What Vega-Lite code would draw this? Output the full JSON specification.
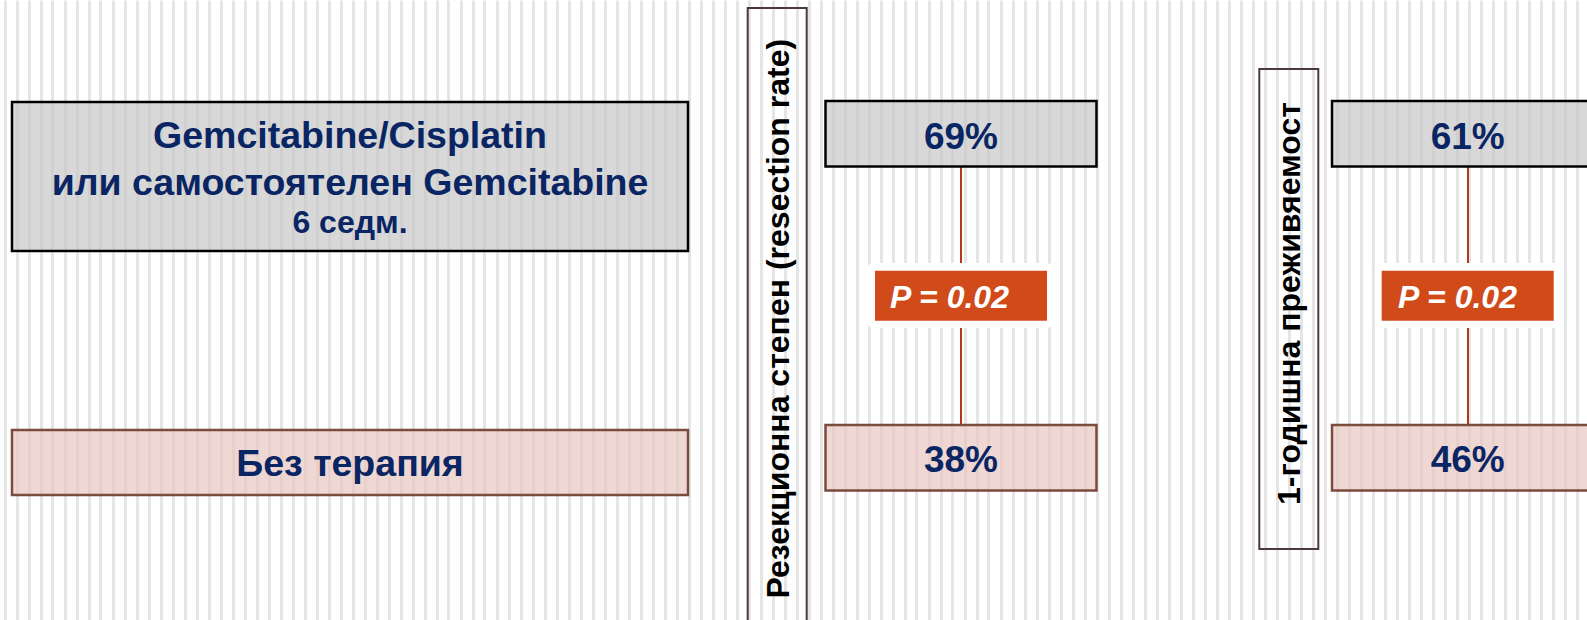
{
  "$schema": "https://vega.github.io/schema/vega-lite/v6.json",
  "width": 1587,
  "height": 620,
  "autosize": {"type": "fit", "contains": "padding"},
  "padding": 0,
  "background": "white",
  "config": {"view": {"stroke": null}, "font": "Liberation Sans"},
  "datasets": {
    "arms": [
      {"arm": "Gemcitabine/Cisplatin или самостоятелен Gemcitabine", "label": ["Gemcitabine/Cisplatin", "или самостоятелен Gemcitabine"], "duration": "6 седм."},
      {"arm": "Без терапия", "label": ["Без терапия"], "duration": ""}
    ],
    "results": [
      {"metric": "Резекционна степен (resection rate)", "arm": "Gemcitabine/Cisplatin или самостоятелен Gemcitabine", "value": 0.69},
      {"metric": "Резекционна степен (resection rate)", "arm": "Без терапия", "value": 0.38},
      {"metric": "1-годишна преживяемост", "arm": "Gemcitabine/Cisplatin или самостоятелен Gemcitabine", "value": 0.61},
      {"metric": "1-годишна преживяемост", "arm": "Без терапия", "value": 0.46}
    ],
    "tests": [
      {"metric": "Резекционна степен (resection rate)", "comparison": "Терапия срещу без терапия", "p": 0.02, "label": "P = 0.02"},
      {"metric": "1-годишна преживяемост", "comparison": "Терапия срещу без терапия", "p": 0.02, "label": "P = 0.02"}
    ]
  },
  "resolve": {
    "scale": {"x": "independent", "y": "independent", "fill": "independent", "stroke": "independent"},
    "axis": {"x": "independent", "y": "independent"}
  },
  "layer": [
    {
      "data": {"name": "tests"},
      "mark": {"type": "rule", "opacity": 0},
      "encoding": {
        "x": {
          "field": "p", "type": "quantitative",
          "scale": {"domain": [0, 1587], "range": [0, 1587], "nice": false, "zero": false},
          "axis": {
            "values": [4.5,16.5,28.5,40.5,52.5,64.5,76.5,88.5,100.5,112.5,124.5,136.5,148.5,160.5,172.5,184.5,196.5,208.5,220.5,232.5,244.5,256.5,268.5,280.5,292.5,304.5,316.5,328.5,340.5,352.5,364.5,376.5,388.5,400.5,412.5,424.5,436.5,448.5,460.5,472.5,484.5,496.5,508.5,520.5,532.5,544.5,556.5,568.5,580.5,592.5,604.5,616.5,628.5,640.5,652.5,664.5,676.5,688.5,700.5,712.5,724.5,736.5,748.5,760.5,772.5,784.5,796.5,808.5,820.5,832.5,844.5,856.5,868.5,880.5,892.5,904.5,916.5,928.5,940.5,952.5,964.5,976.5,988.5,1000.5,1012.5,1024.5,1036.5,1048.5,1060.5,1072.5,1084.5,1096.5,1108.5,1120.5,1132.5,1144.5,1156.5,1168.5,1180.5,1192.5,1204.5,1216.5,1228.5,1240.5,1252.5,1264.5,1276.5,1288.5,1300.5,1312.5,1324.5,1336.5,1348.5,1360.5,1372.5,1384.5,1396.5,1408.5,1420.5,1432.5,1444.5,1456.5,1468.5,1480.5,1492.5,1504.5,1516.5,1528.5,1540.5,1552.5,1564.5,1576.5],
            "grid": true, "gridColor": "#e5e5e5", "gridWidth": 3, "gridOpacity": 1,
            "labels": false, "ticks": false, "domain": false, "title": null
          }
        }
      }
    },
    {
      "data": {"name": "arms"},
      "transform": [{"filter": {"field": "arm", "equal": "Gemcitabine/Cisplatin или самостоятелен Gemcitabine"}}],
      "mark": {"type": "rect", "fill": "#c8c8c8", "fillOpacity": 0.7, "stroke": "#000000", "strokeWidth": 2.5},
      "encoding": {
        "x": {"field": "arm", "type": "nominal", "scale": {"type": "band", "domain": ["Gemcitabine/Cisplatin или самостоятелен Gemcitabine"], "range": [12, 688], "paddingInner": 0, "paddingOuter": 0}, "axis": null},
        "y": {"field": "arm", "type": "nominal", "scale": {"type": "band", "domain": ["Gemcitabine/Cisplatin или самостоятелен Gemcitabine"], "range": [102, 251], "paddingInner": 0, "paddingOuter": 0}, "axis": null}
      }
    },
    {
      "data": {"name": "arms"},
      "transform": [{"filter": {"field": "arm", "equal": "Без терапия"}}],
      "mark": {"type": "rect", "fill": "#e8c8c2", "fillOpacity": 0.7, "stroke": "#7b4b3d", "strokeWidth": 2.5},
      "encoding": {
        "x": {"field": "arm", "type": "nominal", "scale": {"type": "band", "domain": ["Без терапия"], "range": [12, 688], "paddingInner": 0, "paddingOuter": 0}, "axis": null},
        "y": {"field": "arm", "type": "nominal", "scale": {"type": "band", "domain": ["Без терапия"], "range": [430, 495], "paddingInner": 0, "paddingOuter": 0}, "axis": null}
      }
    },
    {
      "data": {"name": "results"},
      "mark": {"type": "line", "stroke": "#b03a15", "strokeWidth": 2},
      "encoding": {
        "x": {"field": "metric", "type": "nominal", "scale": {"type": "point", "domain": ["Резекционна степен (resection rate)", "1-годишна преживяемост"], "range": [961, 1468], "padding": 0}, "axis": null},
        "y": {"field": "arm", "type": "nominal", "scale": {"type": "point", "domain": ["Gemcitabine/Cisplatin или самостоятелен Gemcitabine", "Без терапия"], "range": [166.5, 425], "padding": 0}, "axis": null},
        "detail": {"field": "metric", "type": "nominal"}
      }
    },
    {
      "data": {"name": "tests"},
      "mark": {"type": "rect", "fill": "#ffffff", "cornerRadius": 5},
      "encoding": {
        "x": {"field": "metric", "type": "nominal", "scale": {"type": "band", "domain": ["Резекционна степен (resection rate)", "1-годишна преживяемост"], "range": [868, 1558.7], "paddingInner": 0.6369, "paddingOuter": 0}, "axis": null},
        "y": {"field": "comparison", "type": "nominal", "scale": {"type": "band", "domain": ["Терапия срещу без терапия"], "range": [263, 328], "paddingInner": 0, "paddingOuter": 0}, "axis": null}
      }
    },
    {
      "data": {"name": "tests"},
      "mark": {"type": "rect", "fill": "#d04a1a"},
      "encoding": {
        "x": {"field": "metric", "type": "nominal", "scale": {"type": "band", "domain": ["Резекционна степен (resection rate)", "1-годишна преживяемост"], "range": [875, 1553.7], "paddingInner": 0.6605, "paddingOuter": 0}, "axis": null},
        "y": {"field": "comparison", "type": "nominal", "scale": {"type": "band", "domain": ["Терапия срещу без терапия"], "range": [270.7, 320.7], "paddingInner": 0, "paddingOuter": 0}, "axis": null}
      }
    },
    {
      "data": {"name": "tests"},
      "mark": {"type": "text", "font": "Liberation Sans", "fontWeight": "bold", "fontStyle": "italic", "fontSize": 32, "color": "#ffffff", "align": "center", "baseline": "alphabetic"},
      "encoding": {
        "x": {"field": "metric", "type": "nominal", "scale": {"type": "point", "domain": ["Резекционна степен (resection rate)", "1-годишна преживяемост"], "range": [949.5, 1457.5], "padding": 0}, "axis": null},
        "y": {"field": "comparison", "type": "nominal", "scale": {"type": "point", "domain": ["Терапия срещу без терапия"], "range": [307.8, 307.8], "padding": 0}, "axis": null},
        "text": {"field": "label", "type": "nominal"}
      }
    },
    {
      "data": {"name": "results"},
      "mark": {"type": "rect", "fillOpacity": 0.7, "strokeWidth": 2.5, "clip": true},
      "encoding": {
        "x": {"field": "metric", "type": "nominal", "scale": {"type": "band", "domain": ["Резекционна степен (resection rate)", "1-годишна преживяемост"], "range": [825.5, 1603], "paddingInner": 0.465, "paddingOuter": 0}, "axis": null},
        "y": {"field": "arm", "type": "nominal", "scale": {"type": "band", "domain": ["Gemcitabine/Cisplatin или самостоятелен Gemcitabine", "Без терапия"], "range": [101, 490.5], "paddingInner": 0.7978, "paddingOuter": 0}, "axis": null},
        "fill": {"field": "arm", "type": "nominal", "scale": {"domain": ["Gemcitabine/Cisplatin или самостоятелен Gemcitabine", "Без терапия"], "range": ["#c8c8c8", "#e8c8c2"]}, "legend": null},
        "stroke": {"field": "arm", "type": "nominal", "scale": {"domain": ["Gemcitabine/Cisplatin или самостоятелен Gemcitabine", "Без терапия"], "range": ["#000000", "#7b4b3d"]}, "legend": null}
      }
    },
    {
      "data": {"name": "results"},
      "mark": {"type": "text", "font": "Liberation Sans", "fontWeight": "bold", "fontSize": 37, "color": "#0a2563", "align": "center", "baseline": "alphabetic"},
      "encoding": {
        "x": {"field": "metric", "type": "nominal", "scale": {"type": "point", "domain": ["Резекционна степен (resection rate)", "1-годишна преживяемост"], "range": [961, 1467.7], "padding": 0}, "axis": null},
        "y": {"field": "arm", "type": "nominal", "scale": {"type": "point", "domain": ["Gemcitabine/Cisplatin или самостоятелен Gemcitabine", "Без терапия"], "range": [148.5, 472], "padding": 0}, "axis": null},
        "text": {"field": "value", "type": "quantitative", "format": ".0%"}
      }
    },
    {
      "data": {"name": "tests"},
      "transform": [{"filter": {"field": "metric", "equal": "Резекционна степен (resection rate)"}}],
      "mark": {"type": "rect", "fillOpacity": 0, "stroke": "#4b3a3a", "strokeWidth": 2, "clip": true},
      "encoding": {
        "x": {"field": "metric", "type": "nominal", "scale": {"type": "band", "domain": ["Резекционна степен (resection rate)"], "range": [747.7, 806.7], "paddingInner": 0, "paddingOuter": 0}, "axis": null},
        "y": {"field": "metric", "type": "nominal", "scale": {"type": "band", "domain": ["Резекционна степен (resection rate)"], "range": [8, 640], "paddingInner": 0, "paddingOuter": 0}, "axis": null}
      }
    },
    {
      "data": {"name": "tests"},
      "transform": [{"filter": {"field": "metric", "equal": "1-годишна преживяемост"}}],
      "mark": {"type": "rect", "fillOpacity": 0, "stroke": "#4b3a3a", "strokeWidth": 2, "clip": true},
      "encoding": {
        "x": {"field": "metric", "type": "nominal", "scale": {"type": "band", "domain": ["1-годишна преживяемост"], "range": [1259.3, 1318.3], "paddingInner": 0, "paddingOuter": 0}, "axis": null},
        "y": {"field": "metric", "type": "nominal", "scale": {"type": "band", "domain": ["1-годишна преживяемост"], "range": [69, 549], "paddingInner": 0, "paddingOuter": 0}, "axis": null}
      }
    },
    {
      "data": {"name": "tests"},
      "mark": {"type": "text", "font": "Liberation Sans", "fontWeight": "bold", "fontSize": 32, "color": "#000000", "align": "center", "baseline": "middle", "angle": 270},
      "encoding": {
        "x": {"field": "metric", "type": "nominal", "scale": {"type": "point", "domain": ["Резекционна степен (resection rate)", "1-годишна преживяемост"], "range": [778.5, 1290], "padding": 0}, "axis": null},
        "y": {"field": "metric", "type": "nominal", "scale": {"type": "point", "domain": ["Резекционна степен (resection rate)", "1-годишна преживяемост"], "range": [318.7, 303.5], "padding": 0}, "axis": null},
        "text": {"field": "metric", "type": "nominal"}
      }
    },
    {
      "data": {"name": "arms"},
      "mark": {"type": "text", "font": "Liberation Sans", "fontWeight": "bold", "fontSize": 37.5, "lineHeight": 47.5, "color": "#0a2563", "align": "center", "baseline": "alphabetic"},
      "encoding": {
        "x": {"field": "arm", "type": "nominal", "scale": {"type": "point", "domain": ["Gemcitabine/Cisplatin или самостоятелен Gemcitabine", "Без терапия"], "range": [350, 350], "padding": 0}, "axis": null},
        "y": {"field": "arm", "type": "nominal", "scale": {"type": "point", "domain": ["Gemcitabine/Cisplatin или самостоятелен Gemcitabine", "Без терапия"], "range": [147.5, 475.5], "padding": 0}, "axis": null},
        "text": {"field": "label", "type": "nominal"}
      }
    },
    {
      "data": {"name": "arms"},
      "transform": [{"filter": "datum.duration !== ''"}],
      "mark": {"type": "text", "font": "Liberation Sans", "fontWeight": "bold", "fontSize": 32, "color": "#0a2563", "align": "center", "baseline": "alphabetic"},
      "encoding": {
        "x": {"field": "arm", "type": "nominal", "scale": {"type": "point", "domain": ["Gemcitabine/Cisplatin или самостоятелен Gemcitabine"], "range": [350, 350], "padding": 0}, "axis": null},
        "y": {"field": "arm", "type": "nominal", "scale": {"type": "point", "domain": ["Gemcitabine/Cisplatin или самостоятелен Gemcitabine"], "range": [232.5, 232.5], "padding": 0}, "axis": null},
        "text": {"field": "duration", "type": "nominal"}
      }
    }
  ]
}
